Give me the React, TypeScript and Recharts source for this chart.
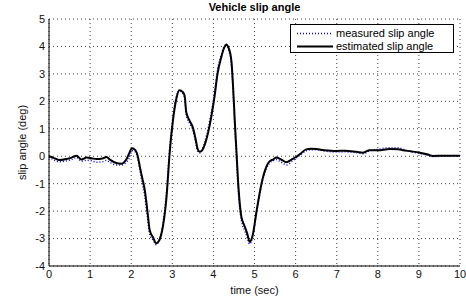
import { LineChart, Line, XAxis, YAxis, CartesianGrid, Legend } from "recharts";

const time = [
  0, 0.1, 0.26, 0.42, 0.55, 0.67, 0.79, 0.91, 1.05, 1.15, 1.3, 1.4, 1.48, 1.64, 1.76, 1.88, 1.95, 2.02, 2.1, 2.16,
  2.21, 2.27, 2.33, 2.41, 2.45, 2.53, 2.61, 2.67, 2.77, 2.86, 2.94, 3.02, 3.1, 3.17, 3.26, 3.3, 3.34, 3.42, 3.5,
  3.57, 3.62, 3.67, 3.73, 3.79, 3.87, 3.95, 4.03, 4.1, 4.19, 4.26, 4.31, 4.37, 4.44, 4.48, 4.52, 4.56, 4.6, 4.68,
  4.76, 4.83, 4.88, 4.96, 5.05, 5.17, 5.29, 5.37, 5.45, 5.53, 5.65, 5.78, 5.9, 6.02, 6.14, 6.26, 6.38, 6.5, 6.7,
  6.99, 7.2, 7.48, 7.64, 7.8, 8.0, 8.29, 8.5, 8.61, 8.8, 9.02, 9.2, 9.34, 9.6, 10,
];

const estimated = [
  0, -0.05, -0.14, -0.1, -0.05, 0.02, -0.12, -0.05, -0.08, -0.1, -0.08, -0.03, -0.12, -0.25, -0.27, -0.12, 0.1,
  0.29, 0.22, 0.0, -0.38, -0.8, -1.23, -2.2, -2.7, -2.95, -3.17, -3.1, -2.57, -1.48, 0.2, 1.35, 2.1, 2.4, 2.33,
  2.2, 1.6, 1.3, 1.05, 0.6, 0.25, 0.16, 0.22, 0.42, 0.85, 1.45, 2.2, 3.0, 3.6, 3.95, 4.07, 3.95, 3.45, 2.5, 1.3,
  0.2, -0.9, -2.2, -2.55, -2.85, -3.12, -2.85, -2.0, -1.0, -0.38, -0.18, -0.12, -0.05, -0.12, -0.22, -0.12,
  -0.02, 0.12, 0.25, 0.27, 0.26, 0.22, 0.19, 0.2, 0.16, 0.13, 0.22, 0.22, 0.26, 0.25, 0.22, 0.18, 0.13, 0.07,
  0.01, 0.02, 0.02,
];

const measured = [
  -0.03, -0.12, -0.2, -0.17, -0.12, -0.04, -0.18, -0.15, -0.17, -0.22, -0.2, -0.15, -0.22, -0.32, -0.32, -0.22, -0.08,
  0.2, 0.16, -0.08, -0.5, -1.0, -1.45, -2.4, -2.85, -3.05, -3.22, -3.1, -2.5, -1.3, 0.35, 1.45, 2.2, 2.38, 2.28,
  2.12, 1.5, 1.2, 0.95, 0.5, 0.18, 0.12, 0.26, 0.52, 1.0, 1.6, 2.35, 3.15, 3.68, 3.98, 4.03, 3.88, 3.3, 2.3,
  1.05, -0.05, -1.15, -2.35, -2.7, -3.0, -3.2, -2.9, -2.05, -1.05, -0.45, -0.24, -0.17, -0.12, -0.22, -0.32, -0.2,
  -0.06, 0.08, 0.2, 0.24, 0.24, 0.19, 0.15, 0.16, 0.13, 0.09, 0.2, 0.25, 0.31, 0.31, 0.25, 0.17, 0.1, 0.04, -0.01,
  0.0, 0.01,
];

const xTicks = [0, 1, 2, 3, 4, 5, 6, 7, 8, 9, 10];
const yTicks = [-4, -3, -2, -1, 0, 1, 2, 3, 4, 5];

const data = time.map((t, i) => ({ t, est: estimated[i], meas: measured[i] }));

const font = "'Liberation Sans', Arial, sans-serif";
const tickStyle = { fontSize: 11, fill: "#111", fontFamily: font };

function SlipLegend() {
  return (
    <div
      style={{
        width: 164,
        height: 29,
        border: "1px solid #000",
        background: "#fff",
        fontFamily: font,
        fontSize: 11,
        color: "#000",
        boxSizing: "border-box",
        padding: "2px 0 0 6px",
        lineHeight: "13px",
      }}
    >
      <div style={{ display: "flex", alignItems: "center" }}>
        <svg width={36} height={13}>
          <line x1={0} y1={6.5} x2={36} y2={6.5} stroke="#0000ff" strokeWidth={1.3} strokeDasharray="1 2" />
        </svg>
        <span style={{ marginLeft: 3 }}>measured slip angle</span>
      </div>
      <div style={{ display: "flex", alignItems: "center" }}>
        <svg width={36} height={13}>
          <line x1={0} y1={6.5} x2={36} y2={6.5} stroke="#000" strokeWidth={2} />
        </svg>
        <span style={{ marginLeft: 3 }}>estimated slip angle</span>
      </div>
    </div>
  );
}

export default function App() {
  return (
    <div style={{ position: "absolute", left: 0, top: 0, width: 466, height: 302, background: "#fff" }}>
      <div
        style={{
          position: "absolute",
          left: 49,
          width: 411,
          top: 1,
          textAlign: "center",
          fontFamily: font,
          fontWeight: "bold",
          fontSize: 11,
        }}
      >
        Vehicle slip angle
      </div>
      <LineChart width={466} height={302} data={data} margin={{ top: 19, right: 6, left: 0, bottom: 0 }}>
        <CartesianGrid stroke="#444" strokeDasharray="1 3" />
        <XAxis
          dataKey="t"
          type="number"
          domain={[0, 10]}
          ticks={xTicks}
          height={36}
          tickLine={false}
          tickSize={2}
          tickMargin={2}
          axisLine={{ stroke: "#000" }}
          tick={tickStyle}
          label={{ value: "time (sec)", position: "insideBottom", offset: 8, style: { fontSize: 11, fill: "#111", fontFamily: font } }}
        />
        <XAxis xAxisId="top" orientation="top" type="number" domain={[0, 10]} height={0} tick={false} tickLine={false} axisLine={{ stroke: "#000" }} />
        <YAxis
          type="number"
          domain={[-4, 5]}
          ticks={yTicks}
          width={49}
          tickLine={false}
          tickSize={2}
          tickMargin={2}
          axisLine={{ stroke: "#000" }}
          tick={tickStyle}
          label={{ value: "slip angle (deg)", angle: -90, position: "center", dx: -2, style: { fontSize: 11, fill: "#111", fontFamily: font } }}
        />
        <YAxis yAxisId="right" orientation="right" type="number" domain={[-4, 5]} width={0} tick={false} tickLine={false} axisLine={{ stroke: "#000" }} />
        <Legend
          layout="horizontal"
          verticalAlign="middle"
          align="center"
          wrapperStyle={{ top: 24, left: 290, width: 166 }}
          content={() => <SlipLegend />}
        />
        <Line type="monotone" dataKey="meas" stroke="#0000ff" strokeWidth={1.5} strokeDasharray="1 2" dot={false} isAnimationActive={false} />
        <Line type="monotone" dataKey="est" stroke="#000" strokeWidth={2} dot={false} isAnimationActive={false} />
      </LineChart>
    </div>
  );
}
